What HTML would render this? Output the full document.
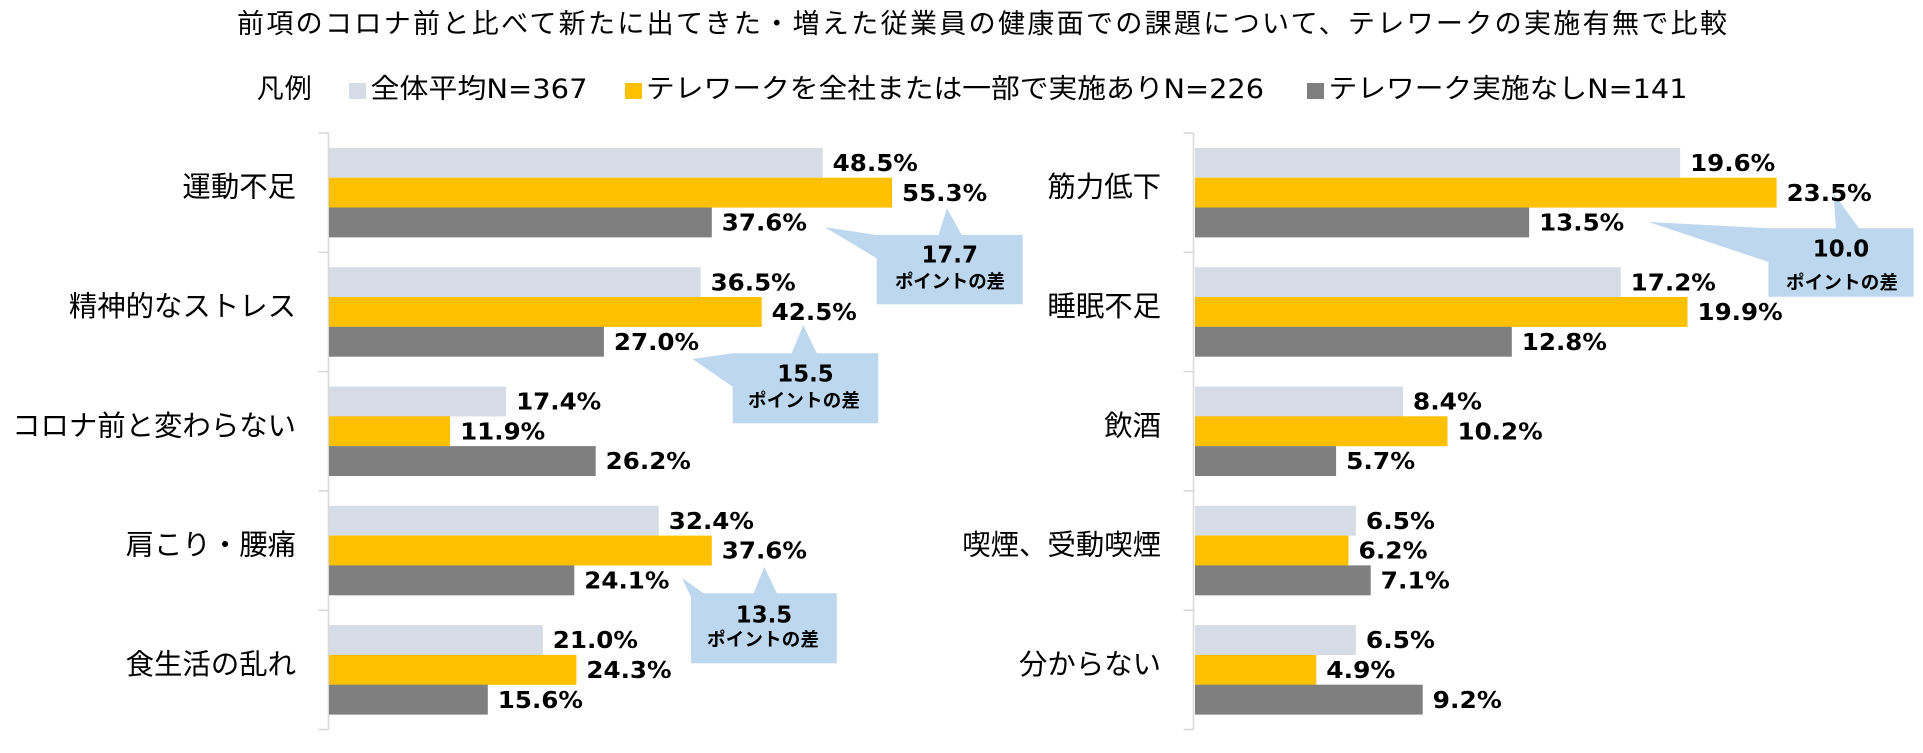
<!DOCTYPE html>
<html>
<head>
<meta charset="utf-8">
<style>
html,body{margin:0;padding:0;background:#fff;}
svg{display:block;}
.cjk{font-family:"Liberation Sans","Noto Sans CJK JP",sans-serif;fill:#000;}
.leg{font-family:"DejaVu Sans","Noto Sans CJK JP",sans-serif;fill:#000;}
.lab{font-family:"DejaVu Sans","Liberation Sans",sans-serif;font-weight:bold;font-size:23.5px;fill:#000;}
.cb{font-family:"Liberation Sans","Noto Sans CJK JP",sans-serif;font-weight:bold;font-size:18.5px;fill:#000;}
</style>
</head>
<body>
<svg width="1923" height="753" viewBox="0 0 1923 753" xmlns="http://www.w3.org/2000/svg">
<rect x="0" y="0" width="1923" height="753" fill="#fff"/>

<!-- Title -->
<text class="cjk" x="237" y="33" font-size="27" textLength="1490">前項のコロナ前と比べて新たに出てきた・増えた従業員の健康面での課題について、テレワークの実施有無で比較</text>

<!-- Legend -->
<text class="cjk" x="256.7" y="98" font-size="27" textLength="55">凡例</text>
<rect x="349" y="83" width="17" height="16" fill="#D6DCE5"/>
<text class="leg" x="370.5" y="98" font-size="27" textLength="217" lengthAdjust="spacingAndGlyphs">全体平均N=367</text>
<rect x="625" y="83" width="17" height="16" fill="#FFC000"/>
<text class="leg" x="646" y="98" font-size="27" textLength="618" lengthAdjust="spacingAndGlyphs">テレワークを全社または一部で実施ありN=226</text>
<rect x="1307" y="83" width="17" height="16" fill="#7F7F7F"/>
<text class="leg" x="1328.5" y="98" font-size="27" textLength="359" lengthAdjust="spacingAndGlyphs">テレワーク実施なしN=141</text>

<!-- Left axis -->
<g stroke="#D9D9D9" stroke-width="1.6" fill="none">
<line x1="328.5" y1="133" x2="328.5" y2="729.5"/>
<line x1="318.5" y1="133" x2="328.5" y2="133"/>
<line x1="318.5" y1="252.3" x2="328.5" y2="252.3"/>
<line x1="318.5" y1="371.6" x2="328.5" y2="371.6"/>
<line x1="318.5" y1="490.9" x2="328.5" y2="490.9"/>
<line x1="318.5" y1="610.2" x2="328.5" y2="610.2"/>
<line x1="318.5" y1="729.5" x2="328.5" y2="729.5"/>
</g>
<!-- Right axis -->
<g stroke="#D9D9D9" stroke-width="1.6" fill="none">
<line x1="1193.5" y1="133" x2="1193.5" y2="729.5"/>
<line x1="1183.5" y1="133" x2="1193.5" y2="133"/>
<line x1="1183.5" y1="252.3" x2="1193.5" y2="252.3"/>
<line x1="1183.5" y1="371.6" x2="1193.5" y2="371.6"/>
<line x1="1183.5" y1="490.9" x2="1193.5" y2="490.9"/>
<line x1="1183.5" y1="610.2" x2="1193.5" y2="610.2"/>
<line x1="1183.5" y1="729.5" x2="1193.5" y2="729.5"/>
</g>

<!-- Left category labels -->
<g class="cjk" font-size="28.4" text-anchor="end">
<text x="296" y="196.7">運動不足</text>
<text x="296" y="316">精神的なストレス</text>
<text x="296" y="435.3">コロナ前と変わらない</text>
<text x="296" y="554.6">肩こり・腰痛</text>
<text x="296" y="673.9">食生活の乱れ</text>
</g>
<!-- Right category labels -->
<g class="cjk" font-size="28.4" text-anchor="end">
<text x="1161" y="196.7">筋力低下</text>
<text x="1161" y="316">睡眠不足</text>
<text x="1161" y="435.3">飲酒</text>
<text x="1161" y="554.6">喫煙、受動喫煙</text>
<text x="1161" y="673.9">分からない</text>
</g>

<!-- Left bars -->
<g>
<rect x="329" y="147.9" width="493.7" height="29.9" fill="#D6DCE5"/>
<rect x="329" y="177.7" width="563.0" height="29.9" fill="#FFC000"/>
<rect x="329" y="207.5" width="382.8" height="29.9" fill="#7F7F7F"/>

<rect x="329" y="267.2" width="371.6" height="29.9" fill="#D6DCE5"/>
<rect x="329" y="297.0" width="432.7" height="29.9" fill="#FFC000"/>
<rect x="329" y="326.8" width="274.9" height="29.9" fill="#7F7F7F"/>

<rect x="329" y="386.5" width="177.1" height="29.9" fill="#D6DCE5"/>
<rect x="329" y="416.3" width="121.1" height="29.9" fill="#FFC000"/>
<rect x="329" y="446.1" width="266.7" height="29.9" fill="#7F7F7F"/>

<rect x="329" y="505.8" width="329.8" height="29.9" fill="#D6DCE5"/>
<rect x="329" y="535.6" width="382.8" height="29.9" fill="#FFC000"/>
<rect x="329" y="565.4" width="245.3" height="29.9" fill="#7F7F7F"/>

<rect x="329" y="625.1" width="213.8" height="29.9" fill="#D6DCE5"/>
<rect x="329" y="654.9" width="247.4" height="29.9" fill="#FFC000"/>
<rect x="329" y="684.7" width="158.8" height="29.9" fill="#7F7F7F"/>
</g>

<!-- Right bars -->
<g>
<rect x="1195" y="147.9" width="485.1" height="29.9" fill="#D6DCE5"/>
<rect x="1195" y="177.7" width="581.6" height="29.9" fill="#FFC000"/>
<rect x="1195" y="207.5" width="334.1" height="29.9" fill="#7F7F7F"/>

<rect x="1195" y="267.2" width="425.7" height="29.9" fill="#D6DCE5"/>
<rect x="1195" y="297.0" width="492.5" height="29.9" fill="#FFC000"/>
<rect x="1195" y="326.8" width="316.8" height="29.9" fill="#7F7F7F"/>

<rect x="1195" y="386.5" width="207.9" height="29.9" fill="#D6DCE5"/>
<rect x="1195" y="416.3" width="252.5" height="29.9" fill="#FFC000"/>
<rect x="1195" y="446.1" width="141.1" height="29.9" fill="#7F7F7F"/>

<rect x="1195" y="505.8" width="160.9" height="29.9" fill="#D6DCE5"/>
<rect x="1195" y="535.6" width="153.5" height="29.9" fill="#FFC000"/>
<rect x="1195" y="565.4" width="175.7" height="29.9" fill="#7F7F7F"/>

<rect x="1195" y="625.1" width="160.9" height="29.9" fill="#D6DCE5"/>
<rect x="1195" y="654.9" width="121.3" height="29.9" fill="#FFC000"/>
<rect x="1195" y="684.7" width="227.7" height="29.9" fill="#7F7F7F"/>
</g>

<!-- Callouts -->
<g fill="#BDD7EE">
<polygon points="876.7,235 938.5,235 947,208.3 961.7,235 1022.7,235 1022.7,304.3 876.7,304.3 876.7,258.3 825,227.3"/>
<polygon points="732.7,353.3 791.7,353.3 803.3,325 816.7,353.3 878.3,353.3 878.3,423.3 732.7,423.3 732.7,386.7 692.5,359"/>
<polygon points="703.6,593.3 753.6,593.3 764.3,566.7 776.8,593.3 836.8,593.3 836.8,663.3 691,663.3 691,597 682,578"/>
<polygon points="1768.5,228.3 1836,228.3 1833.3,193 1859,228.3 1913.6,228.3 1913.6,296.7 1768.5,296.7 1768.5,262 1648.5,222"/>
</g>
<g text-anchor="middle">
<text class="lab" x="949.7" y="262.5" textLength="56.4" lengthAdjust="spacingAndGlyphs">17.7</text>
<text class="cb" x="950" y="288" textLength="110">ポイントの差</text>
<text class="lab" x="805.5" y="381.5" textLength="56.4" lengthAdjust="spacingAndGlyphs">15.5</text>
<text class="cb" x="804" y="407" textLength="112">ポイントの差</text>
<text class="lab" x="764" y="622.5" textLength="56.4" lengthAdjust="spacingAndGlyphs">13.5</text>
<text class="cb" x="763" y="646" textLength="112">ポイントの差</text>
<text class="lab" x="1841" y="256.5" textLength="56.4" lengthAdjust="spacingAndGlyphs">10.0</text>
<text class="cb" x="1842" y="289" textLength="112">ポイントの差</text>
</g>

<!-- Left data labels -->
<g class="lab" lengthAdjust="spacingAndGlyphs">
<text x="832.7" y="171" textLength="85.2" lengthAdjust="spacingAndGlyphs">48.5%</text>
<text x="902" y="200.8" textLength="85.2" lengthAdjust="spacingAndGlyphs">55.3%</text>
<text x="721.8" y="230.6" textLength="85.2" lengthAdjust="spacingAndGlyphs">37.6%</text>

<text x="710.6" y="290.3" textLength="85.2" lengthAdjust="spacingAndGlyphs">36.5%</text>
<text x="771.7" y="320.1" textLength="85.2" lengthAdjust="spacingAndGlyphs">42.5%</text>
<text x="613.9" y="349.9" textLength="85.2" lengthAdjust="spacingAndGlyphs">27.0%</text>

<text x="516.1" y="409.6" textLength="85.2" lengthAdjust="spacingAndGlyphs">17.4%</text>
<text x="460.1" y="439.4" textLength="85.2" lengthAdjust="spacingAndGlyphs">11.9%</text>
<text x="605.7" y="469.2" textLength="85.2" lengthAdjust="spacingAndGlyphs">26.2%</text>

<text x="668.8" y="528.9" textLength="85.2" lengthAdjust="spacingAndGlyphs">32.4%</text>
<text x="721.8" y="558.7" textLength="85.2" lengthAdjust="spacingAndGlyphs">37.6%</text>
<text x="584.3" y="588.5" textLength="85.2" lengthAdjust="spacingAndGlyphs">24.1%</text>

<text x="552.8" y="648.2" textLength="85.2" lengthAdjust="spacingAndGlyphs">21.0%</text>
<text x="586.4" y="678" textLength="85.2" lengthAdjust="spacingAndGlyphs">24.3%</text>
<text x="497.8" y="707.8" textLength="85.2" lengthAdjust="spacingAndGlyphs">15.6%</text>
</g>

<!-- Right data labels -->
<g class="lab">
<text x="1690.1" y="171" textLength="85.2" lengthAdjust="spacingAndGlyphs">19.6%</text>
<text x="1786.6" y="200.8" textLength="85.2" lengthAdjust="spacingAndGlyphs">23.5%</text>
<text x="1539.1" y="230.6" textLength="85.2" lengthAdjust="spacingAndGlyphs">13.5%</text>

<text x="1630.7" y="290.3" textLength="85.2" lengthAdjust="spacingAndGlyphs">17.2%</text>
<text x="1697.5" y="320.1" textLength="85.2" lengthAdjust="spacingAndGlyphs">19.9%</text>
<text x="1521.8" y="349.9" textLength="85.2" lengthAdjust="spacingAndGlyphs">12.8%</text>

<text x="1412.9" y="409.6" textLength="69.1" lengthAdjust="spacingAndGlyphs">8.4%</text>
<text x="1457.5" y="439.4" textLength="85.2" lengthAdjust="spacingAndGlyphs">10.2%</text>
<text x="1346.1" y="469.2" textLength="69.1" lengthAdjust="spacingAndGlyphs">5.7%</text>

<text x="1365.9" y="528.9" textLength="69.1" lengthAdjust="spacingAndGlyphs">6.5%</text>
<text x="1358.5" y="558.7" textLength="69.1" lengthAdjust="spacingAndGlyphs">6.2%</text>
<text x="1380.7" y="588.5" textLength="69.1" lengthAdjust="spacingAndGlyphs">7.1%</text>

<text x="1365.9" y="648.2" textLength="69.1" lengthAdjust="spacingAndGlyphs">6.5%</text>
<text x="1326.3" y="678" textLength="69.1" lengthAdjust="spacingAndGlyphs">4.9%</text>
<text x="1432.7" y="707.8" textLength="69.1" lengthAdjust="spacingAndGlyphs">9.2%</text>
</g>
</svg>
</body>
</html>
